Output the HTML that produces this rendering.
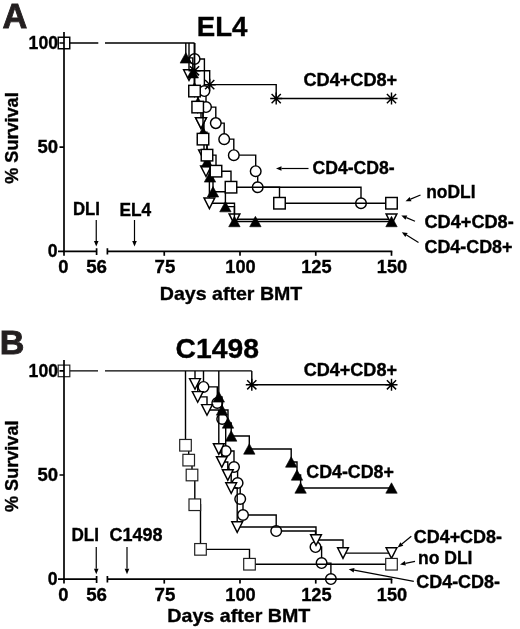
<!DOCTYPE html>
<html lang="en">
<head>
<meta charset="utf-8">
<title>Survival after DLI: EL4 and C1498</title>
<style>
html,body{margin:0;padding:0;background:#fff;}
body{width:520px;height:629px;overflow:hidden;}
svg{display:block;}
svg text{font-family:"Liberation Sans",Arial,Helvetica,sans-serif;font-weight:bold;fill:#000;stroke:#000;stroke-width:0.35;}
svg text.pl{fill:#231f20;stroke:#231f20;stroke-width:0.9;}
.ax{stroke:#000;stroke-width:1.7;fill:none;}
.ln{stroke:#000;stroke-width:1.4;fill:none;stroke-linejoin:miter;}
.mo{stroke:#000;stroke-width:1.45;fill:#fff;}
.sb{stroke:#222;stroke-width:1.2;}
.mf{stroke:#000;stroke-width:0.6;fill:#000;}
.as{stroke:#000;stroke-width:1.45;fill:none;}
</style>
</head>
<body>
<svg width="520" height="629" viewBox="0 0 520 629">
<rect x="0" y="0" width="520" height="629" fill="#fff"/>
<g id="panelA">
<path d="M64,43H98.3M105,43H194.6" class="ln"/>
<path d="M194.60,43.00H194.60V59.02H204.40V91.07H206.00V107.09H215.80V123.12H224.20V139.14H233.80V155.16H255.70V171.18H257.70V187.21H361.00V203.23" class="ln"/>
<circle cx="194.60" cy="59.02" r="5.3" class="mo"/>
<circle cx="204.40" cy="91.07" r="5.3" class="mo"/>
<circle cx="206.00" cy="107.09" r="5.3" class="mo"/>
<circle cx="215.80" cy="123.12" r="5.3" class="mo"/>
<circle cx="224.20" cy="139.14" r="5.3" class="mo"/>
<circle cx="233.80" cy="155.16" r="5.3" class="mo"/>
<circle cx="255.70" cy="171.18" r="5.3" class="mo"/>
<circle cx="257.70" cy="187.21" r="5.3" class="mo"/>
<circle cx="361.00" cy="203.23" r="5.3" class="mo"/>
<path d="M189.00,43.00H189.00V75.05H194.50V91.07H197.70V107.09H201.00V123.12H204.00V155.16H206.00V171.18H209.40V203.23H234.50V219.25H391.50V219.25" class="ln"/>
<polygon points="183.60,69.75 194.40,69.75 189.00,80.35" class="mo"/>
<polygon points="189.10,85.77 199.90,85.77 194.50,96.37" class="mo"/>
<polygon points="192.30,101.79 203.10,101.79 197.70,112.39" class="mo"/>
<polygon points="195.60,117.82 206.40,117.82 201.00,128.42" class="mo"/>
<polygon points="198.60,149.86 209.40,149.86 204.00,160.46" class="mo"/>
<polygon points="200.60,165.88 211.40,165.88 206.00,176.48" class="mo"/>
<polygon points="204.00,197.93 214.80,197.93 209.40,208.53" class="mo"/>
<polygon points="229.10,213.95 239.90,213.95 234.50,224.55" class="mo"/>
<polygon points="386.10,213.95 396.90,213.95 391.50,224.55" class="mo"/>
<path d="M185.80,43.00H185.80V57.88H192.80V72.76H194.50V87.64H198.00V102.51H203.00V132.27H207.00V162.03H210.00V176.91H213.00V191.79H225.40V206.66H234.40V221.54H391.50V221.54" class="ln"/>
<polygon points="195.60,117.82 206.40,117.82 201.00,128.42" class="mo"/>
<polygon points="185.80,52.68 191.50,63.08 180.10,63.08" class="mf"/>
<polygon points="192.80,67.56 198.50,77.96 187.10,77.96" class="mf"/>
<polygon points="194.50,82.44 200.20,92.84 188.80,92.84" class="mf"/>
<polygon points="198.00,97.31 203.70,107.71 192.30,107.71" class="mf"/>
<polygon points="203.00,127.07 208.70,137.47 197.30,137.47" class="mf"/>
<polygon points="207.00,156.83 212.70,167.23 201.30,167.23" class="mf"/>
<polygon points="210.00,171.71 215.70,182.11 204.30,182.11" class="mf"/>
<polygon points="213.00,186.59 218.70,196.99 207.30,196.99" class="mf"/>
<polygon points="225.40,201.46 231.10,211.86 219.70,211.86" class="mf"/>
<polygon points="234.40,216.34 240.10,226.74 228.70,226.74" class="mf"/>
<polygon points="391.50,216.34 397.20,226.74 385.80,226.74" class="mf"/>
<polygon points="255.40,216.34 261.10,226.74 249.70,226.74" class="mf"/>
<path d="M194.50,43.00H194.50V91.07H197.70V107.09H203.00V139.14H207.00V155.16H216.00V171.18H231.00V187.21H279.50V203.23H391.50V203.23" class="ln"/>
<rect x="58.25" y="37.25" width="11.5" height="11.5" class="mo"/>
<rect x="188.75" y="85.32" width="11.5" height="11.5" class="mo"/>
<rect x="191.95" y="101.34" width="11.5" height="11.5" class="mo"/>
<rect x="197.25" y="133.39" width="11.5" height="11.5" class="mo"/>
<rect x="201.25" y="149.41" width="11.5" height="11.5" class="mo"/>
<rect x="210.25" y="165.43" width="11.5" height="11.5" class="mo"/>
<rect x="225.25" y="181.46" width="11.5" height="11.5" class="mo"/>
<rect x="273.75" y="197.48" width="11.5" height="11.5" class="mo"/>
<rect x="385.75" y="197.48" width="11.5" height="11.5" class="mo"/>
<path d="M194.50,43.00H194.50V70.77H209.70V84.66H276.20V98.55H391.50V98.55" class="ln"/>
<path d="M188.50,70.77H200.50M194.50,64.77V76.77M189.90,66.17L199.10,75.37M189.90,75.37L199.10,66.17" class="as"/>
<path d="M203.70,84.66H215.70M209.70,78.66V90.66M205.10,80.06L214.30,89.26M205.10,89.26L214.30,80.06" class="as"/>
<path d="M270.20,98.55H282.20M276.20,92.55V104.55M271.60,93.95L280.80,103.15M271.60,103.15L280.80,93.95" class="as"/>
<path d="M385.50,98.55H397.50M391.50,92.55V104.55M386.90,93.95L396.10,103.15M386.90,103.15L396.10,93.95" class="as"/>
<path d="M64,32V251.3" class="ax"/>
<path d="M59.5,43H64M59.5,147.2H64M58,251.3H64" class="ax"/>
<path d="M63.2,251.3H96.6M107.4,251.3H392.3" class="ax"/>
<path d="M96.6,248.3V255.10000000000002M107.4,248.3V254.60000000000002" class="ax"/>
<path d="M64,251.3V255.8" class="ax"/>
<path d="M164.25,251.3V255.8" class="ax"/>
<path d="M240,251.3V255.8" class="ax"/>
<path d="M315.75,251.3V255.8" class="ax"/>
<path d="M391.5,251.3V255.8" class="ax"/>
<text x="2.50" y="27.50" font-size="34.5" textLength="24.80" lengthAdjust="spacingAndGlyphs" class="pl">A</text>
<text x="196.80" y="36.20" font-size="27" textLength="50.70" lengthAdjust="spacingAndGlyphs">EL4</text>
<text x="28.60" y="49.00" font-size="18" textLength="29.40" lengthAdjust="spacingAndGlyphs">100</text>
<text x="37.40" y="153.00" font-size="18" textLength="20.60" lengthAdjust="spacingAndGlyphs">50</text>
<text x="47.80" y="257.20" font-size="18" textLength="9.80" lengthAdjust="spacingAndGlyphs">0</text>
<g transform="translate(17.8,183.8) rotate(-90)">
<text x="0.00" y="0.00" font-size="18" textLength="91.50" lengthAdjust="spacingAndGlyphs">% Survival</text>
</g>
<text x="58.30" y="273.40" font-size="18" textLength="10.20" lengthAdjust="spacingAndGlyphs">0</text>
<text x="86.20" y="273.40" font-size="18" textLength="20.80" lengthAdjust="spacingAndGlyphs">56</text>
<text x="154.60" y="273.40" font-size="18" textLength="20.80" lengthAdjust="spacingAndGlyphs">75</text>
<text x="225.30" y="273.40" font-size="18" textLength="30.40" lengthAdjust="spacingAndGlyphs">100</text>
<text x="301.20" y="273.40" font-size="18" textLength="30.40" lengthAdjust="spacingAndGlyphs">125</text>
<text x="376.80" y="273.40" font-size="18" textLength="30.40" lengthAdjust="spacingAndGlyphs">150</text>
<text x="73.00" y="215.30" font-size="18" textLength="27.00" lengthAdjust="spacingAndGlyphs">DLI</text>
<text x="119.50" y="216.00" font-size="18" textLength="31.75" lengthAdjust="spacingAndGlyphs">EL4</text>
<text x="159.80" y="299.60" font-size="19" textLength="142.50" lengthAdjust="spacingAndGlyphs">Days after BMT</text>
<text x="303.50" y="86.00" font-size="18" textLength="93.70" lengthAdjust="spacingAndGlyphs">CD4+CD8+</text>
<text x="312.50" y="174.00" font-size="18" textLength="82.10" lengthAdjust="spacingAndGlyphs">CD4-CD8-</text>
<text x="426.25" y="198.00" font-size="18" textLength="49.25" lengthAdjust="spacingAndGlyphs">noDLI</text>
<text x="424.50" y="228.00" font-size="18" textLength="89.25" lengthAdjust="spacingAndGlyphs">CD4+CD8-</text>
<text x="424.50" y="253.00" font-size="18" textLength="88.00" lengthAdjust="spacingAndGlyphs">CD4-CD8+</text>
<path d="M96.25,220.00L96.25,241.00" stroke="#000" stroke-width="1.2" fill="none"/>
<polygon points="96.25,246.50 93.95,241.00 98.55,241.00" fill="#000"/>
<path d="M134.50,220.00L134.50,241.00" stroke="#000" stroke-width="1.2" fill="none"/>
<polygon points="134.50,246.50 132.20,241.00 136.80,241.00" fill="#000"/>
<path d="M308.50,168.50L281.50,168.50" stroke="#000" stroke-width="1.2" fill="none"/>
<polygon points="276.00,168.50 281.50,166.20 281.50,170.80" fill="#000"/>
<path d="M420.50,195.00L410.58,199.10" stroke="#000" stroke-width="1.2" fill="none"/>
<polygon points="405.50,201.20 409.70,196.97 411.46,201.22" fill="#000"/>
<path d="M415.00,221.20L406.39,217.68" stroke="#000" stroke-width="1.2" fill="none"/>
<polygon points="401.30,215.60 407.26,215.55 405.52,219.81" fill="#000"/>
<path d="M418.50,242.40L406.49,235.07" stroke="#000" stroke-width="1.2" fill="none"/>
<polygon points="401.80,232.20 407.69,233.10 405.29,237.03" fill="#000"/>
</g>
<g id="panelB">
<path d="M64,370.9H98M105,370.9H251.8" class="ln"/>
<path d="M203.50,370.90H203.50V386.92H217.30V402.93H222.20V418.95H225.70V450.98H234.00V466.99H237.60V483.01H240.20V499.02H243.00V515.04H276.20V531.05H315.50V547.07H321.60V563.08H330.90V579.10" class="ln"/>
<circle cx="203.50" cy="386.92" r="5.3" class="mo"/>
<circle cx="217.30" cy="402.93" r="5.3" class="mo"/>
<circle cx="222.20" cy="418.95" r="5.3" class="mo"/>
<circle cx="225.70" cy="450.98" r="5.3" class="mo"/>
<circle cx="234.00" cy="466.99" r="5.3" class="mo"/>
<circle cx="237.60" cy="483.01" r="5.3" class="mo"/>
<circle cx="240.20" cy="499.02" r="5.3" class="mo"/>
<circle cx="243.00" cy="515.04" r="5.3" class="mo"/>
<circle cx="276.20" cy="531.05" r="5.3" class="mo"/>
<circle cx="315.50" cy="547.07" r="5.3" class="mo"/>
<circle cx="321.60" cy="563.08" r="5.3" class="mo"/>
<circle cx="330.90" cy="579.10" r="5.3" class="mo"/>
<path d="M195.00,370.90H195.00V383.91H197.70V396.92H207.00V409.94H218.80V448.98H221.80V461.99H227.80V475.00H231.20V488.01H237.20V527.05H316.00V540.06H343.00V553.08H391.50V553.08" class="ln"/>
<polygon points="189.60,378.61 200.40,378.61 195.00,389.21" class="mo"/>
<polygon points="192.30,391.62 203.10,391.62 197.70,402.22" class="mo"/>
<polygon points="201.60,404.64 212.40,404.64 207.00,415.24" class="mo"/>
<polygon points="213.40,443.68 224.20,443.68 218.80,454.28" class="mo"/>
<polygon points="216.40,456.69 227.20,456.69 221.80,467.29" class="mo"/>
<polygon points="222.40,469.70 233.20,469.70 227.80,480.30" class="mo"/>
<polygon points="225.80,482.71 236.60,482.71 231.20,493.31" class="mo"/>
<polygon points="231.80,521.75 242.60,521.75 237.20,532.35" class="mo"/>
<polygon points="310.60,534.76 321.40,534.76 316.00,545.36" class="mo"/>
<polygon points="337.60,547.78 348.40,547.78 343.00,558.38" class="mo"/>
<polygon points="386.10,547.78 396.90,547.78 391.50,558.38" class="mo"/>
<path d="M218.80,370.90H218.80V396.92H222.00V409.94H228.00V422.95H231.20V435.96H249.30V448.98H291.20V461.99H297.00V475.00H300.60V488.01H391.50V488.01" class="ln"/>
<polygon points="218.80,391.72 224.50,402.12 213.10,402.12" class="mf"/>
<polygon points="222.00,404.74 227.70,415.14 216.30,415.14" class="mf"/>
<polygon points="228.00,417.75 233.70,428.15 222.30,428.15" class="mf"/>
<polygon points="231.20,430.76 236.90,441.16 225.50,441.16" class="mf"/>
<polygon points="249.30,443.78 255.00,454.18 243.60,454.18" class="mf"/>
<polygon points="291.20,456.79 296.90,467.19 285.50,467.19" class="mf"/>
<polygon points="297.00,469.80 302.70,480.20 291.30,480.20" class="mf"/>
<polygon points="300.60,482.81 306.30,493.21 294.90,493.21" class="mf"/>
<polygon points="391.50,482.81 397.20,493.21 385.80,493.21" class="mf"/>
<path d="M185.50,370.90H185.50V445.26H188.70V460.13H192.00V475.00H194.80V504.74H200.50V549.36H249.50V564.23H391.50V564.23" class="ln"/>
<rect x="58.20" y="365.10" width="11.6" height="11.6" class="mo sb"/>
<rect x="179.70" y="439.46" width="11.6" height="11.6" class="mo sb"/>
<rect x="182.90" y="454.33" width="11.6" height="11.6" class="mo sb"/>
<rect x="186.20" y="469.20" width="11.6" height="11.6" class="mo sb"/>
<rect x="189.00" y="498.94" width="11.6" height="11.6" class="mo sb"/>
<rect x="194.70" y="543.56" width="11.6" height="11.6" class="mo sb"/>
<rect x="243.70" y="558.43" width="11.6" height="11.6" class="mo sb"/>
<rect x="385.70" y="558.43" width="11.6" height="11.6" class="mo sb"/>
<path d="M251.80,370.90H251.80V384.78H391.50V384.78" class="ln"/>
<path d="M245.80,384.78H257.80M251.80,378.78V390.78M247.20,380.18L256.40,389.38M247.20,389.38L256.40,380.18" class="as"/>
<path d="M385.50,384.78H397.50M391.50,378.78V390.78M386.90,380.18L396.10,389.38M386.90,389.38L396.10,380.18" class="as"/>
<path d="M64,360V579.1" class="ax"/>
<path d="M59.5,370.9H64M59.5,475H64M58,579.1H64" class="ax"/>
<path d="M63.2,579.1H96.6M107.4,579.1H392.3" class="ax"/>
<path d="M96.6,576.1V582.9M107.4,576.1V582.4" class="ax"/>
<path d="M64,579.1V583.6" class="ax"/>
<path d="M164.25,579.1V583.6" class="ax"/>
<path d="M240,579.1V583.6" class="ax"/>
<path d="M315.75,579.1V583.6" class="ax"/>
<path d="M391.5,579.1V583.6" class="ax"/>
<text x="-0.30" y="354.00" font-size="34" textLength="24.60" lengthAdjust="spacingAndGlyphs" class="pl">B</text>
<text x="175.60" y="357.60" font-size="28" textLength="83.40" lengthAdjust="spacingAndGlyphs">C1498</text>
<text x="28.60" y="376.80" font-size="18" textLength="29.40" lengthAdjust="spacingAndGlyphs">100</text>
<text x="37.40" y="480.70" font-size="18" textLength="20.60" lengthAdjust="spacingAndGlyphs">50</text>
<text x="47.80" y="584.80" font-size="18" textLength="9.80" lengthAdjust="spacingAndGlyphs">0</text>
<g transform="translate(17.8,512) rotate(-90)">
<text x="0.00" y="0.00" font-size="18" textLength="91.50" lengthAdjust="spacingAndGlyphs">% Survival</text>
</g>
<text x="58.30" y="601.20" font-size="18" textLength="10.20" lengthAdjust="spacingAndGlyphs">0</text>
<text x="86.20" y="601.20" font-size="18" textLength="20.80" lengthAdjust="spacingAndGlyphs">56</text>
<text x="154.60" y="601.20" font-size="18" textLength="20.80" lengthAdjust="spacingAndGlyphs">75</text>
<text x="225.30" y="601.20" font-size="18" textLength="30.40" lengthAdjust="spacingAndGlyphs">100</text>
<text x="301.20" y="601.20" font-size="18" textLength="30.40" lengthAdjust="spacingAndGlyphs">125</text>
<text x="376.80" y="601.20" font-size="18" textLength="30.40" lengthAdjust="spacingAndGlyphs">150</text>
<text x="71.50" y="540.50" font-size="18" textLength="27.50" lengthAdjust="spacingAndGlyphs">DLI</text>
<text x="109.50" y="540.50" font-size="18" textLength="53.00" lengthAdjust="spacingAndGlyphs">C1498</text>
<text x="167.30" y="622.30" font-size="19" textLength="143.00" lengthAdjust="spacingAndGlyphs">Days after BMT</text>
<text x="303.70" y="376.20" font-size="18" textLength="93.30" lengthAdjust="spacingAndGlyphs">CD4+CD8+</text>
<text x="306.30" y="478.00" font-size="18" textLength="87.60" lengthAdjust="spacingAndGlyphs">CD4-CD8+</text>
<text x="413.75" y="542.50" font-size="18" textLength="88.25" lengthAdjust="spacingAndGlyphs">CD4+CD8-</text>
<text x="418.00" y="563.80" font-size="18" textLength="54.50" lengthAdjust="spacingAndGlyphs">no DLI</text>
<text x="416.25" y="587.50" font-size="18" textLength="83.75" lengthAdjust="spacingAndGlyphs">CD4-CD8-</text>
<path d="M96.25,547.00L96.25,568.70" stroke="#000" stroke-width="1.2" fill="none"/>
<polygon points="96.25,574.20 93.95,568.70 98.55,568.70" fill="#000"/>
<path d="M127.00,547.00L127.00,568.70" stroke="#000" stroke-width="1.2" fill="none"/>
<polygon points="127.00,574.20 124.70,568.70 129.30,568.70" fill="#000"/>
<path d="M411.30,536.20L401.86,543.92" stroke="#000" stroke-width="1.2" fill="none"/>
<polygon points="397.60,547.40 400.40,542.14 403.31,545.70" fill="#000"/>
<path d="M415.00,561.30L405.38,563.35" stroke="#000" stroke-width="1.2" fill="none"/>
<polygon points="400.00,564.50 404.90,561.10 405.86,565.60" fill="#000"/>
<path d="M413.80,581.30L354.11,570.21" stroke="#000" stroke-width="1.2" fill="none"/>
<polygon points="348.70,569.20 354.53,567.94 353.69,572.47" fill="#000"/>
</g>
</svg>
</body>
</html>
